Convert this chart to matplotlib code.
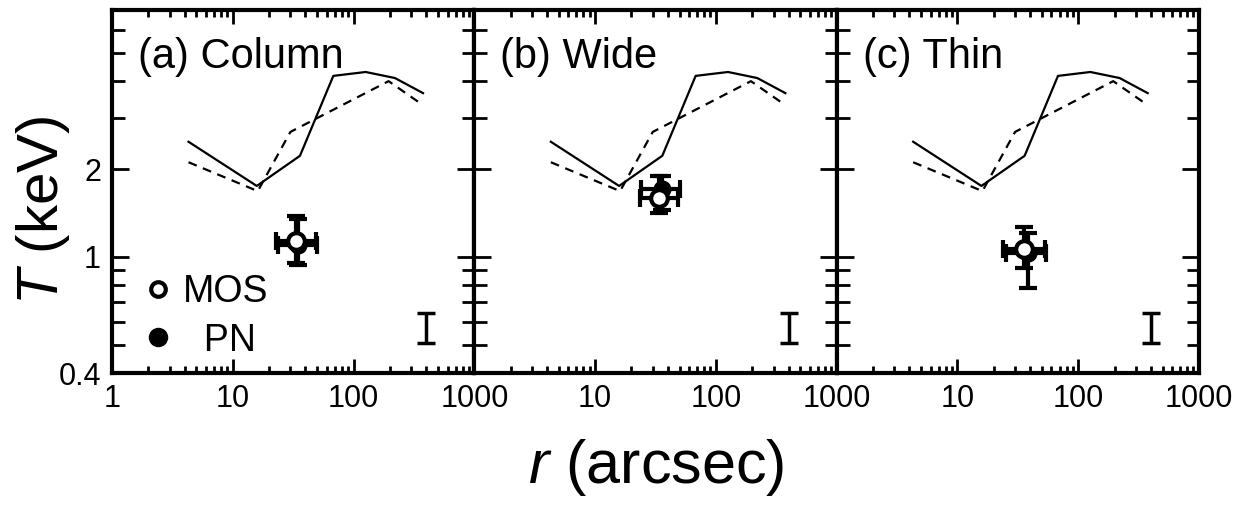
"""
temperature profiles for three filters, MOS and PN vs model lines
"""
import numpy as np
import matplotlib
matplotlib.use("Agg")
from matplotlib import pyplot as plt
from matplotlib.lines import Line2D
from matplotlib.ticker import FixedLocator, FuncFormatter, NullFormatter

plt.rcParams['font.family'] = ['Liberation Sans', 'DejaVu Sans']
plt.rcParams['mathtext.fontset'] = 'custom'
plt.rcParams['mathtext.rm'] = 'Liberation Sans'
plt.rcParams['mathtext.it'] = 'Liberation Sans:italic'

panel_names = ["(a) Column", "(b) Wide", "(c) Thin"]

# model curves (same in every panel)
model_solid_r = [4.3, 15.8, 36, 68, 126, 220, 376]
model_solid_T = [2.48, 1.75, 2.22, 4.17, 4.30, 4.10, 3.64]
model_dash_r = [4.3, 16.1, 30, 195, 376]
model_dash_T = [2.11, 1.68, 2.68, 4.0, 3.31]

# MOS points, one per panel
mos_r = [33.5, 33.5, 35.5]
mos_r_lo = [22.8, 23.7, 23.7]
mos_r_hi = [49, 49, 53]
mos_T = [1.13, 1.59, 1.065]
mos_T_lo = [0.954, 1.41, 0.917]
mos_T_hi = [1.38, 1.89, 1.27]

# PN points, one per panel
pn_r = [34.5, 35.5, 38.3]
pn_r_lo = [23.5, 24.0, 25.0]
pn_r_hi = [50, 50, 54]
pn_T = [1.10, 1.71, 1.03]
pn_T_lo = [0.94, 1.45, 0.783]
pn_T_hi = [1.35, 1.89, 1.21]

# representative systematic error bar
sys_r = 400
sys_T = 0.572
sys_T_lo = 0.508
sys_T_hi = 0.643

x_ticks = [1, 10, 100, 1000]
x_minor = [m * 10 ** d for d in range(3) for m in range(2, 10)]
y_ticks = [0.4, 1, 2]
y_minor = [0.5, 0.6, 0.7, 0.8, 0.9, 3, 4, 5, 6]


def errs(v, lo, hi):
    v = np.asarray(v)
    return [v - np.asarray(lo), np.asarray(hi) - v]


fig = plt.figure(figsize=(12.5, 5.11), dpi=100)
gs = fig.add_gridspec(1, 3, left=0.0896, right=0.9592, bottom=0.27, top=0.980, wspace=0)
axes = [fig.add_subplot(gs[0, i]) for i in range(3)]

for i, ax in enumerate(axes):
    ax.set_xscale("log")
    ax.set_yscale("log")
    ax.set_xlim(1, 1000)
    ax.set_ylim(0.4, 7.0)

    ax.plot(model_solid_r, model_solid_T, color="black", lw=1.6)
    ax.plot(model_dash_r, model_dash_T, color="black", lw=1.6, ls=(0, (4, 3)))

    ekw = dict(fmt="o", color="black", ms=12, elinewidth=3, capsize=6.5, capthick=3)
    ax.errorbar([pn_r[i]], [pn_T[i]],
                xerr=errs([pn_r[i]], [pn_r_lo[i]], [pn_r_hi[i]]),
                yerr=errs([pn_T[i]], [pn_T_lo[i]], [pn_T_hi[i]]),
                mfc="black", mec="black", zorder=3, **ekw)
    ax.errorbar([mos_r[i]], [mos_T[i]],
                xerr=errs([mos_r[i]], [mos_r_lo[i]], [mos_r_hi[i]]),
                yerr=errs([mos_T[i]], [mos_T_lo[i]], [mos_T_hi[i]]),
                mfc="white", mec="black", mew=3, zorder=4, **ekw)
    ax.errorbar([sys_r], [sys_T], yerr=errs([sys_T], [sys_T_lo], [sys_T_hi]),
                fmt="none", ecolor="black", elinewidth=2.5, capsize=6.5, capthick=2.5)

    ax.text(0.072, 0.87, panel_names[i], transform=ax.transAxes,
            fontsize=30, va="center", ha="left")

    ax.xaxis.set_major_locator(FixedLocator(x_ticks))
    ax.xaxis.set_minor_locator(FixedLocator(x_minor))
    ax.xaxis.set_minor_formatter(NullFormatter())
    if i == 0:
        ax.xaxis.set_major_formatter(FuncFormatter(lambda v, p: f"{v:g}"))
    else:
        ax.xaxis.set_major_formatter(FuncFormatter(lambda v, p: "" if v == 1 else f"{v:g}"))

    ax.yaxis.set_major_locator(FixedLocator(y_ticks))
    ax.yaxis.set_minor_locator(FixedLocator(y_minor))
    ax.yaxis.set_minor_formatter(NullFormatter())
    if i == 0:
        ax.yaxis.set_major_formatter(FuncFormatter(lambda v, p: f"{v:g}"))
    else:
        ax.yaxis.set_major_formatter(NullFormatter())

    ax.tick_params(axis="both", which="both", direction="in", top=True, right=True,
                   width=2, labelsize=22, pad=8)
    ax.tick_params(axis="x", which="major", length=10)
    ax.tick_params(axis="x", which="minor", length=5)
    ax.tick_params(axis="y", which="major", length=12)
    ax.tick_params(axis="y", which="minor", length=9)
    for s in ax.spines.values():
        s.set_linewidth(3)

handles = [
    Line2D([], [], ls="none", marker="o", ms=10.5, mfc="white", mec="black", mew=3),
    Line2D([], [], ls="none", marker="o", ms=13, mfc="black", mec="black"),
]
axes[0].legend(handles, ["MOS", "  PN"], loc="lower left", bbox_to_anchor=(0.097, 0.04),
               frameon=False, fontsize=27, handlelength=0.6, handletextpad=0.35,
               labelspacing=0.33, borderpad=0, borderaxespad=0)

fig.text(0.034, 0.589, r"$T$ (keV)", rotation=90, fontsize=42, ha="center", va="center")
fig.text(0.525, 0.085, r"$r$ (arcsec)", fontsize=44, ha="center", va="center")

plt.savefig("out.png", dpi=100)
